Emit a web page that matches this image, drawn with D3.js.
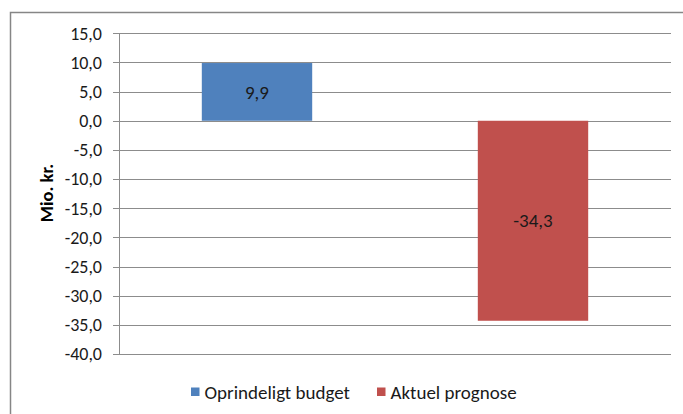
<!DOCTYPE html>
<html>
<head>
<meta charset="utf-8">
<script src="https://cdn.jsdelivr.net/npm/d3@7"></script>
<style>
  html, body { margin: 0; padding: 0; background: #fff; }
  svg { display: block; font-family: Carlito, Calibri, "Open Sans", sans-serif; }
</style>
</head>
<body>
<svg id="chart" width="683" height="414"></svg>
<script>
const SERIES = ['Oprindeligt budget', 'Aktuel prognose'];
const VALUES = [9.9, -34.3];
const COLORS = ['#4F81BD', '#C0504D'];
const Y_TICKS = [15, 10, 5, 0, -5, -10, -15, -20, -25, -30, -35, -40];
const Y_TITLE = 'Mio. kr.';

const svg = d3.select('#chart');
const width = 683;
const margin = { top: 33.3, right: 12, bottom: 60, left: 119 };
const fmt = v => d3.format('.1f')(v).replace('.', ',').replace('−', '-');

// outer chart border
svg.append('rect')
  .attr('x', 10.5).attr('y', 12.5)
  .attr('width', 700).attr('height', 420)
  .attr('fill', 'none')
  .attr('stroke', '#868686')
  .attr('stroke-width', 1.5);

const y = d3.scaleLinear()
  .domain([-40, 15])
  .range([354, margin.top]);

const x = d3.scaleBand()
  .domain(SERIES)
  .range([margin.left, width - margin.right]);

// gridlines
svg.append('g')
  .selectAll('line')
  .data(Y_TICKS)
  .join('line')
  .attr('x1', margin.left - 6).attr('x2', width - margin.right)
  .attr('y1', d => Math.round(y(d)) + 0.5).attr('y2', d => Math.round(y(d)) + 0.5)
  .attr('stroke', '#8c8c8c')
  .attr('stroke-width', 1);

// y axis line
svg.append('line')
  .attr('x1', margin.left + 0.5).attr('x2', margin.left + 0.5)
  .attr('y1', y(15)).attr('y2', y(-40))
  .attr('stroke', '#8c8c8c');

// y tick labels
svg.append('g')
  .selectAll('text')
  .data(Y_TICKS)
  .join('text')
  .attr('x', 102)
  .attr('y', d => y(d))
  .attr('dy', '0.35em')
  .attr('text-anchor', 'end')
  .attr('font-size', '18px')
  .attr('fill', '#1a1a1a')
  .text(fmt);

// bars
const barW = x.bandwidth() * 0.4;
svg.append('g')
  .selectAll('rect')
  .data(SERIES)
  .join('rect')
  .attr('x', (d) => x(d) + (x.bandwidth() - barW) / 2)
  .attr('width', barW)
  .attr('y', (d, i) => y(Math.max(0, VALUES[i])))
  .attr('height', (d, i) => Math.abs(y(VALUES[i]) - y(0)))
  .attr('fill', (d, i) => COLORS[i]);

// bar labels
svg.append('g')
  .selectAll('text')
  .data(SERIES)
  .join('text')
  .attr('x', d => x(d) + x.bandwidth() / 2)
  .attr('y', (d, i) => (y(VALUES[i]) + y(0)) / 2)
  .attr('dy', '0.35em')
  .attr('text-anchor', 'middle')
  .attr('font-size', '19px')
  .attr('fill', '#1a1a1a')
  .text((d, i) => fmt(VALUES[i]));

// y axis title
svg.append('text')
  .attr('transform', `translate(53,193) rotate(-90)`)
  .attr('text-anchor', 'middle')
  .attr('font-size', '18.5px')
  .attr('font-weight', 'bold')
  .attr('fill', '#000')
  .text(Y_TITLE);

// legend
const legendX = [191, 377];
const legend = svg.append('g');
SERIES.forEach((s, i) => {
  legend.append('rect')
    .attr('x', legendX[i]).attr('y', 387.5)
    .attr('width', 8.5).attr('height', 8.5)
    .attr('fill', COLORS[i]);
  legend.append('text')
    .attr('x', legendX[i] + 13.5).attr('y', 399)
    .attr('font-size', '19px')
    .attr('fill', '#1a1a1a')
    .text(s);
});
</script>
</body>
</html>
